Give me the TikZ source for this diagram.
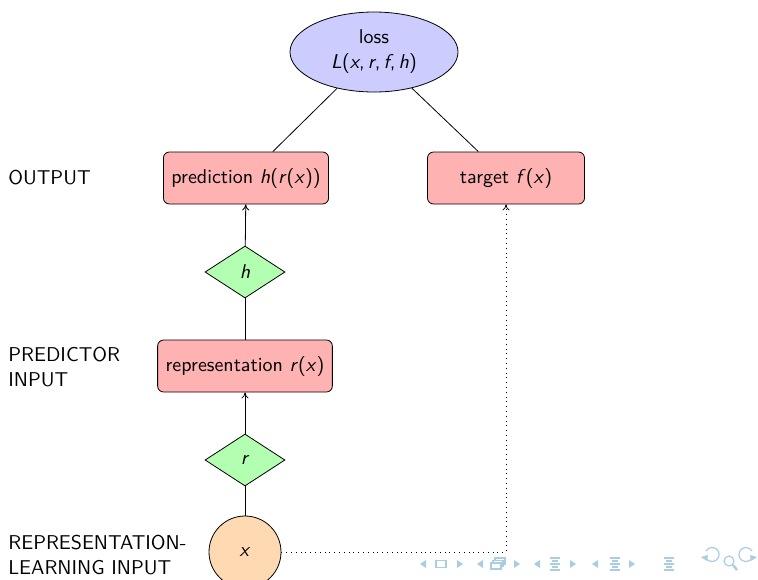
\documentclass[tikz,border=0pt]{standalone}
\usetikzlibrary{shapes.geometric,arrows.meta}
\newcommand{\vi}[1]{\textit{#1}}
\definecolor{navcol}{RGB}{170,205,225}
\begin{document}
\begin{tikzpicture}[x=0.5pt,y=-0.5pt,
  font=\sffamily\fontsize{10}{12.5}\selectfont,
  boxnode/.style={draw, rounded corners=3pt, fill=red!30, minimum height=26pt, inner xsep=4pt},
  lossnode/.style={draw, ellipse, fill=blue!20, minimum width=84pt, minimum height=40pt, inner sep=0pt, align=center},
  funcnode/.style={draw, diamond, fill=green!30, minimum width=40pt, minimum height=26pt, inner sep=0pt},
  inputnode/.style={draw, circle, fill=orange!30, minimum size=36pt, inner sep=0pt},
  sidelabel/.style={anchor=west, align=left, inner sep=0pt},
  feed/.style={-{To[length=3pt,width=3.5pt]}},
  navline/.style={draw=navcol, line width=0.6pt}]
\useasboundingbox (0,0) rectangle (758,579);

\node[lossnode] (loss) at (374,52) {loss\\\vi{L}(\vi{x},\,\vi{r},\,\vi{f},\,\vi{h})};
\node[boxnode] (pred) at (246,178) {prediction \vi{h}(\vi{r}(\vi{x}))};
\node[boxnode, minimum width=78.5pt] (target) at (506,178) {target \vi{f}(\vi{x})};
\node[funcnode] (h) at (245,272) {\vi{h}};
\node[boxnode] (repr) at (245,366) {representation \vi{r}(\vi{x})};
\node[funcnode] (r) at (245,460) {\vi{r}};
\node[inputnode] (x) at (245,552) {\vi{x}};
\coordinate (corner) at (target |- x);

\node[sidelabel] (l1) at (8,178) {OUTPUT};
\node[sidelabel] (l2) at (8,367) {PREDICTOR\\INPUT};
\node[sidelabel] (l3) at (8,555) {REPRESENTATION-\\LEARNING INPUT};

\draw (loss) -- (pred);
\draw (loss) -- (target);
\draw (repr) -- (h);
\draw[feed] (h) -- (pred);
\draw (x) -- (r);
\draw[feed] (r) -- (repr);
\draw[dotted, feed] (x) -- (corner) -- (target);

% navigation symbols
\foreach \xx in {423,480,537,595}
  \fill[navcol] (\xx+3,560) -- (\xx-3,564) -- (\xx+3,568) -- cycle;
\foreach \xx in {460,517,573,632}
  \fill[navcol] (\xx-3,560) -- (\xx+3,564) -- (\xx-3,568) -- cycle;
\draw[navline] (436,560.5) rectangle (446,567.5);
\draw[navline, fill=white] (495,558) rectangle (505,564);
\draw[navline, fill=white] (493,560.5) rectangle (503,566.5);
\draw[navline, fill=white] (491,563) rectangle (501,569);
\foreach \xx in {555,615,669}{
  \draw[navline] (\xx-5,558) -- (\xx+5,558);
  \draw[navline] (\xx-3,561) -- (\xx+3,561);
  \draw[navline] (\xx-5,564) -- (\xx+5,564);
  \draw[navline] (\xx-3,567) -- (\xx+3,567);
  \draw[navline] (\xx-5,570) -- (\xx+5,570);
}
\draw[navline] (706,558) arc[start angle=150, end angle=-150, radius=7];
\fill[navcol] (701,557) -- (708,555) -- (707,561) -- cycle;
\draw[navline] (729,561) circle[radius=5];
\draw[navline, line width=1.2pt] (733,565) -- (737,570);
\draw[navline] (752,558) arc[start angle=30, end angle=330, radius=7];
\fill[navcol] (757,557) -- (750,555) -- (751,561) -- cycle;
\end{tikzpicture}
\end{document}
